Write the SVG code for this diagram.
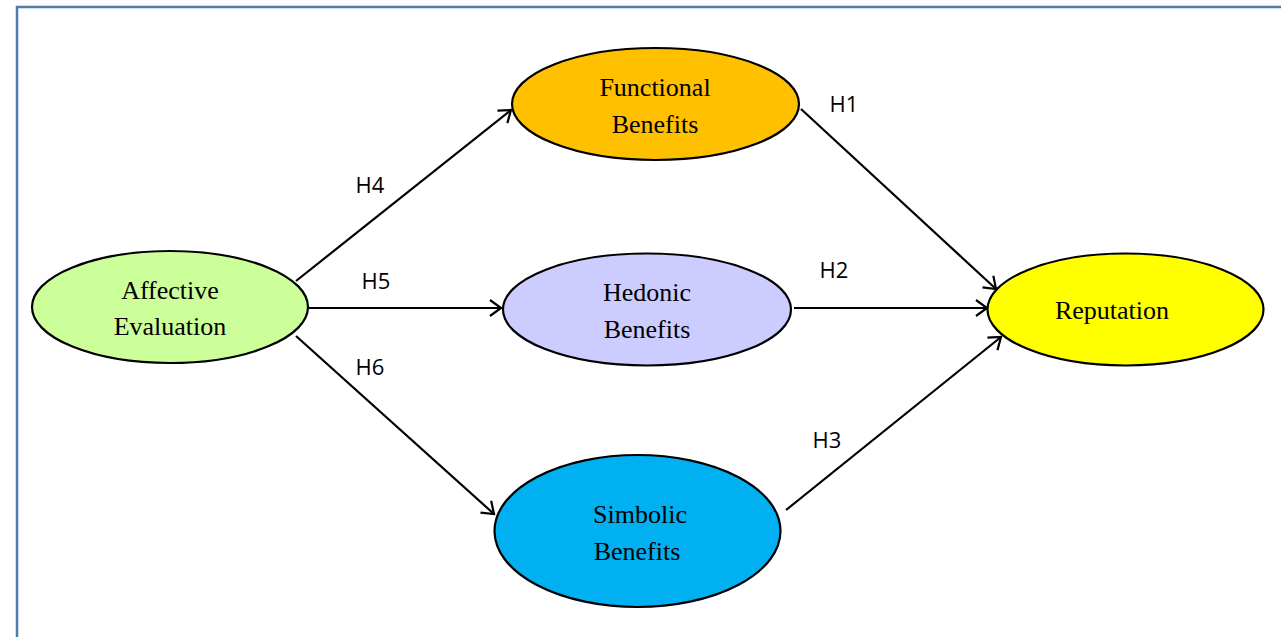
<svg xmlns="http://www.w3.org/2000/svg" width="1281" height="637" viewBox="0 0 1281 637">
<style>
.node{stroke:#000;stroke-width:2.2}
.nt{font-family:"Liberation Serif","Times New Roman",serif;font-size:26px;fill:#000;text-anchor:middle}
.lab{font-family:"Open Sans","Liberation Sans",sans-serif;font-size:22px;fill:#000;text-anchor:middle}
.edge{stroke:#000;stroke-width:2.2;fill:none;marker-end:url(#arr)}
</style>
<defs>
<marker id="arr" markerUnits="userSpaceOnUse" markerWidth="20" markerHeight="20" refX="14" refY="10" orient="auto">
<path d="M3,2 L14,10 L3,18" fill="none" stroke="#000" stroke-width="2.2"/>
</marker>
</defs>
<rect x="0" y="0" width="1281" height="637" fill="#fff"/>
<rect x="17" y="7" width="1290" height="660" fill="none" stroke="#4f7cac" stroke-width="2.5"/>
<g id="connectors">
<line class="edge" x1="296" y1="281" x2="511" y2="110"/>
<line class="edge" x1="308" y1="308" x2="501" y2="308"/>
<line class="edge" x1="296" y1="336" x2="494" y2="514"/>
<line class="edge" x1="801" y1="109" x2="996" y2="289"/>
<line class="edge" x1="794" y1="308" x2="987" y2="308"/>
<line class="edge" x1="786" y1="510" x2="1001" y2="337"/>
<text class="lab" x="370" y="193">H4</text>
<text class="lab" x="376" y="289">H5</text>
<text class="lab" x="370" y="375">H6</text>
<text class="lab" x="844" y="112">H1</text>
<text class="lab" x="834" y="278">H2</text>
<text class="lab" x="827" y="448">H3</text>
</g>
<g id="affective">
<ellipse class="node" cx="170" cy="307" rx="138" ry="56" fill="#ccff99"/>
<text class="nt" x="170" y="299">Affective</text>
<text class="nt" x="170" y="335">Evaluation</text>
</g>
<g id="functional">
<ellipse class="node" cx="655.5" cy="104" rx="143.5" ry="56" fill="#ffc000"/>
<text class="nt" x="655" y="96">Functional</text>
<text class="nt" x="655" y="133">Benefits</text>
</g>
<g id="hedonic">
<ellipse class="node" cx="647" cy="309.5" rx="144" ry="56" fill="#ccccff"/>
<text class="nt" x="647" y="301">Hedonic</text>
<text class="nt" x="647" y="338">Benefits</text>
</g>
<g id="simbolic">
<ellipse class="node" cx="637.5" cy="531" rx="143" ry="76" fill="#00b0f0"/>
<text class="nt" x="640" y="523">Simbolic</text>
<text class="nt" x="637" y="560">Benefits</text>
</g>
<g id="reputation">
<ellipse class="node" cx="1125.5" cy="309.5" rx="138" ry="56" fill="#ffff00"/>
<text class="nt" x="1112" y="319">Reputation</text>
</g>
</svg>
